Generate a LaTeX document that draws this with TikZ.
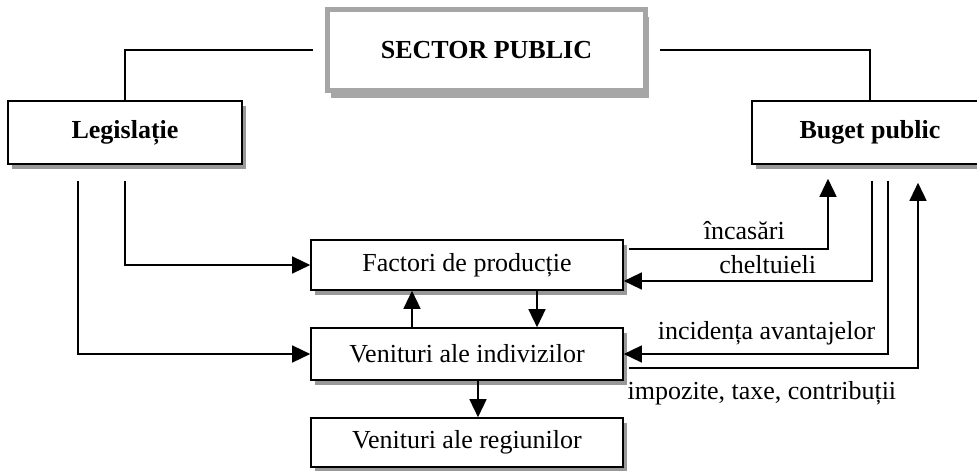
\documentclass[tikz,border=0pt]{standalone}
\usepackage{fontspec}
\setmainfont{Liberation Serif}
\colorlet{ShadowGray}{black!40}
\colorlet{FrameGray}{black!35}
\usetikzlibrary{arrows.meta, shadows}

\tikzset{
  caseta/.style={draw, line width=0.8pt, fill=white, inner sep=0pt,
    minimum width=156pt, minimum height=25pt,
    drop shadow={shadow xshift=2pt, shadow yshift=-2.5pt, fill=ShadowGray, opacity=1}},
  titlu/.style={font=\fontsize{13}{15}\selectfont\bfseries},
  sageata/.style={line width=0.7pt, -{Triangle[length=9pt, width=8.5pt]}},
  linie/.style={line width=0.7pt}
}

\begin{document}
\begin{tikzpicture}[x=0.5pt, y=-0.5pt, font=\fontsize{13}{15}\selectfont]

    \useasboundingbox (0,0) rectangle (977,470);

    % Casetele de sus
    \node [draw=FrameGray, line width=2.5pt, fill=white, minimum width=159pt, minimum height=40.5pt,
      drop shadow={shadow xshift=1.5pt, shadow yshift=-3.75pt, fill=FrameGray, opacity=1}, titlu]
      (sector) at (486.5,50) {SECTOR PUBLIC};
    \node [caseta, minimum width=117pt, minimum height=31.5pt, titlu] (legis) at (125,132.5) {Legislație};
    \node [caseta, minimum width=118pt, minimum height=31.5pt, titlu] (buget) at (870,132.5) {Buget public};

    % Casetele din mijloc
    \node [caseta] (factori) at (467,265) {Factori de producție};
    \node [caseta, minimum height=26pt] (venind) at (467,354) {Venituri ale indivizilor};
    \node [caseta, minimum height=24.5pt] (venreg) at (467,442.5) {Venituri ale regiunilor};

    % Legaturi sector public
    \draw [linie, shorten <=6pt] (sector.west) -| (legis.north);
    \draw [linie, shorten <=6pt] (sector.east) -| (buget.north);

    % Legislatie
    \draw [sageata] ([yshift=-8pt]legis.south) |- (factori.west);
    \draw [sageata] ([xshift=-23.5pt, yshift=-8pt]legis.south) |- (venind.west);

    % Intre casete
    \draw [sageata] ([xshift=-27.5pt]venind.north) -- ([xshift=-27.5pt]factori.south);
    \draw [sageata] ([xshift=35pt]factori.south) -- ([xshift=35pt]venind.north);
    \draw [sageata] ([xshift=5.5pt]venind.south) -- ([xshift=5.5pt]venreg.north);

    % Bugetul public
    \draw [sageata] ([xshift=2.5pt, yshift=8pt]factori.east) -| node [pos=0.29, above=1pt] {încasări}
      ([xshift=-21pt, yshift=-7pt]buget.south);
    \draw [sageata] ([xshift=1pt, yshift=-8pt]buget.south) |- node [pos=0.71, above] {cheltuieli}
      ([yshift=-8pt]factori.east);
    \draw [sageata] ([xshift=9pt, yshift=-8pt]buget.south) |- node [pos=0.73, above=1pt] {incidența avantajelor}
      (venind.east);
    \draw [sageata] ([xshift=2.5pt, yshift=-7pt]venind.east) -| node [pos=0.23, below=3pt] {impozite, taxe, contribuții}
      ([xshift=24pt, yshift=-9pt]buget.south);

\end{tikzpicture}
\end{document}
